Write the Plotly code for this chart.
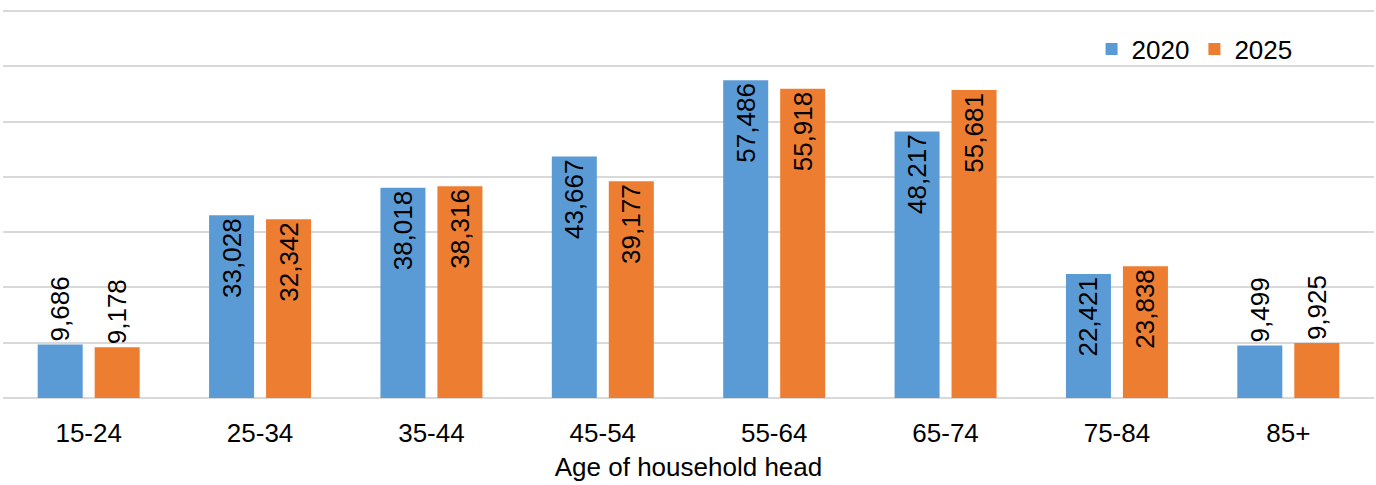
import plotly.graph_objects as go

categories = ["15-24", "25-34", "35-44", "45-54", "55-64", "65-74", "75-84", "85+"]
values_2020 = [9686, 33028, 38018, 43667, 57486, 48217, 22421, 9499]
values_2025 = [9178, 32342, 38316, 39177, 55918, 55681, 23838, 9925]
series_names = ["2020", "2025"]
colors = ["#5B9BD5", "#ED7D31"]
x_title = "Age of household head"

FONT = "Liberation Sans, Arial, sans-serif"
FS = 26


def positions(vals):
    return ["outside" if v < 12000 else "inside" for v in vals]


fig = go.Figure()
for name, vals, col in zip(series_names, [values_2020, values_2025], colors):
    fig.add_trace(go.Bar(
        x=categories, y=vals, name=name,
        marker=dict(color=col, line=dict(width=0)),
        text=[f"{v:,}" for v in vals],
        textposition=positions(vals),
        insidetextanchor="end",
        textangle=-90,
        textfont=dict(family=FONT, size=FS, color="black"),
        constraintext="none",
        cliponaxis=False,
    ))

fig.update_layout(
    width=1376, height=485,
    margin=dict(l=3, r=2, t=9, b=87, autoexpand=False),
    paper_bgcolor="white", plot_bgcolor="white",
    font=dict(family=FONT, size=FS, color="black"),
    barmode="group", bargap=0.335, bargroupgap=0.21,
    legend=dict(
        orientation="h", xref="container", yref="container",
        x=0.943, xanchor="right", y=1 - 49 / 485, yanchor="middle",
        font=dict(family=FONT, size=FS, color="black"),
        itemwidth=30, bgcolor="rgba(0,0,0,0)",
    ),
    showlegend=True,
)
fig.update_xaxes(
    showgrid=False, showline=False, zeroline=False,
    ticks="outside", ticklen=12, tickcolor="rgba(0,0,0,0)",
    tickfont=dict(family=FONT, size=FS, color="black"),
    title=dict(text=x_title, font=dict(family=FONT, size=FS, color="black"), standoff=10),
    automargin=False,
)
fig.update_yaxes(
    range=[0, 70350], tick0=0, dtick=10000, showticklabels=False,
    showgrid=True, gridcolor="#D9D9D9", gridwidth=1.5,
    zeroline=True, zerolinecolor="#D9D9D9", zerolinewidth=1.5,
    showline=False, ticks="", automargin=False,
)

fig.write_html(
    "out.html",
    config={"displayModeBar": False},
    post_script="document.body.style.margin='0';document.body.style.overflow='hidden';",
)
